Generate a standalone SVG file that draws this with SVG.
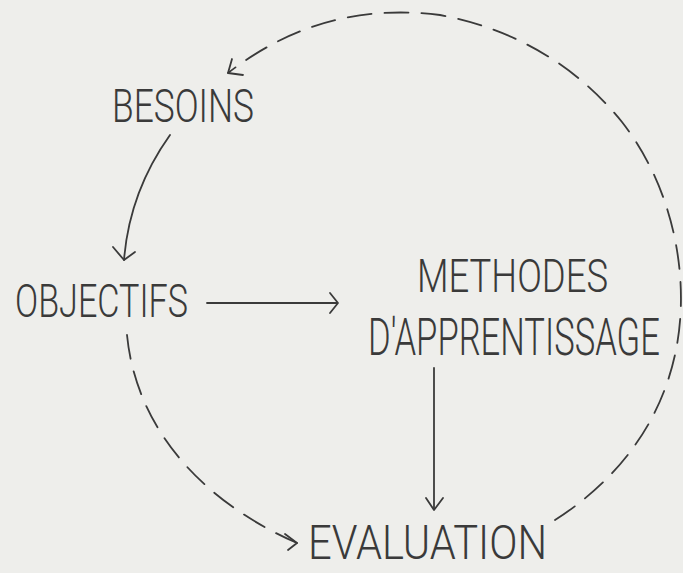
<svg xmlns="http://www.w3.org/2000/svg" width="683" height="573" viewBox="0 0 683 573">
<style>
.lbl{font-family:Roboto,"Liberation Sans",sans-serif;font-weight:300;fill:#3a3a3a}
.ln{fill:none;stroke:#3a3a3a;stroke-width:1.8;stroke-linecap:round;stroke-linejoin:round}
.dash{stroke-dasharray:24 13}
</style>
<rect width="683" height="573" fill="#eeeeeb"/>
<g id="connectors">
  <path class="ln" d="M170,135 C145,170 128,210 124,260"/>
  <path class="ln" d="M113,247 L124,260 L135,252"/>
  <path class="ln" d="M207,303 L337,303"/>
  <path class="ln" d="M330,293 L338,303 L330,313"/>
  <path class="ln" d="M434,368 L434,509"/>
  <path class="ln" d="M426,498 L434,510 L443,498"/>
  <path class="ln dash" d="M127,335 C135,418 190,496 297,543"/>
  <path class="ln" d="M285,534 L297,543 L288,550"/>
  <path class="ln dash" d="M555,520 C610,485 660,430 676,350 C690,280 675,190 622,122 C580,70 520,30 440,15 C360,5 290,25 228,73"/>
  <path class="ln" d="M232,59 L228,73 L243,75"/>
</g>
<g id="besoins"><text class="lbl" x="112" y="122" font-size="47" textLength="142" lengthAdjust="spacingAndGlyphs">BESOINS</text></g>
<g id="objectifs"><text class="lbl" x="15" y="317" font-size="47" textLength="173" lengthAdjust="spacingAndGlyphs">OBJECTIFS</text></g>
<g id="methodes"><text class="lbl" x="417" y="292" font-size="47" textLength="191" lengthAdjust="spacingAndGlyphs">METHODES</text>
<text class="lbl" transform="translate(368,355) scale(0.65,1)" x="0" y="0" font-size="51" textLength="449" lengthAdjust="spacingAndGlyphs">D'APPRENTISSAGE</text></g>
<g id="evaluation"><text class="lbl" x="308" y="559" font-size="48" textLength="239" lengthAdjust="spacingAndGlyphs">EVALUATION</text></g>
</svg>
